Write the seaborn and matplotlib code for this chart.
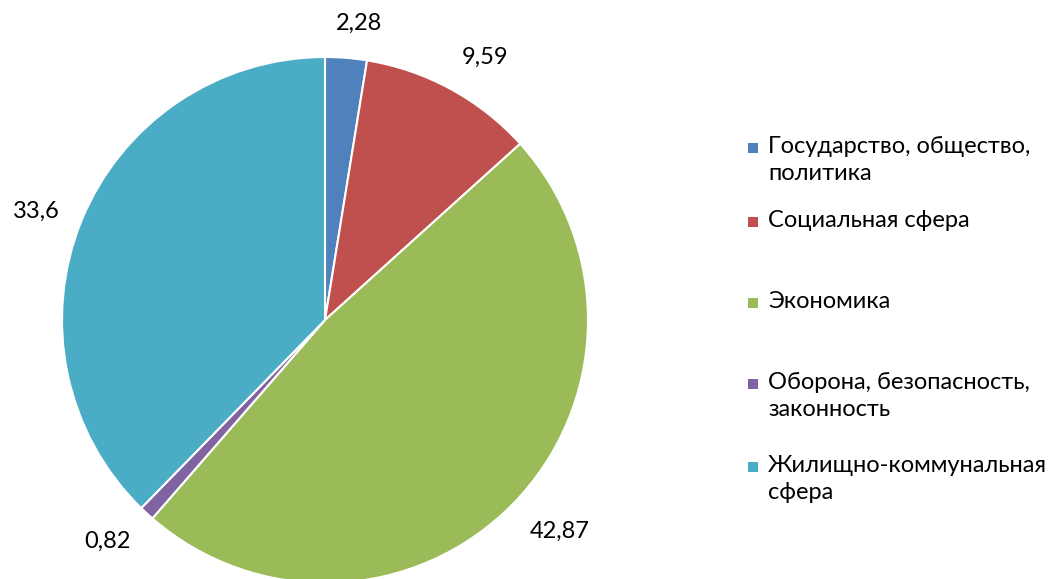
import numpy as np
import matplotlib
matplotlib.use("Agg")
import matplotlib.pyplot as plt
import seaborn as sns
from matplotlib.patches import Rectangle

# Data
categories = [
    "Государство, общество,\nполитика",
    "Социальная сфера",
    "Экономика",
    "Оборона, безопасность,\nзаконность",
    "Жилищно-коммунальная\nсфера",
]
values = [2.28, 9.59, 42.87, 0.82, 33.6]
value_labels = ["2,28", "9,59", "42,87", "0,82", "33,6"]
colors = ["#4F81BD", "#C0504D", "#9BBB59", "#8064A2", "#4BACC6"]

sns.set_style("white")
plt.rcParams["font.family"] = ["Lato", "Roboto", "DejaVu Sans"]

W, H = 1055, 579
fig = plt.figure(figsize=(W / 100, H / 100), dpi=100)
ax = fig.add_axes([0, 0, 1, 1])

# pie geometry in pixels
cx, cy, r = 325, 320, 263
palette = sns.color_palette(colors)
wedges, _ = ax.pie(
    values,
    colors=palette,
    startangle=90,
    counterclock=False,
    radius=1,
    wedgeprops=dict(edgecolor="white", linewidth=1.5),
)
ax.set_aspect("auto")
ax.set_xlim(-cx / r, (W - cx) / r)
ax.set_ylim(-(H - cy) / r, cy / r)
ax.axis("off")

# value labels outside the slices
for w, lab in zip(wedges, value_labels):
    ang = np.deg2rad((w.theta1 + w.theta2) / 2)
    c, s = np.cos(ang), np.sin(ang)
    ha = "center" if abs(c) < 0.2 else ("left" if c > 0 else "right")
    va = "bottom" if s > 0.5 else ("top" if s < -0.5 else "center")
    x = 1.09 * c + (0.04 if ha == "center" else 0.0)
    ax.text(x, 1.09 * s, lab, ha=ha, va=va, fontsize=17, color="#000000")

# legend, drawn by hand so the marker sits on the first line
legend_y = [148, 222, 303, 384, 467]
for lab, col, y in zip(categories, colors, legend_y):
    fig.patches.append(Rectangle((748 / W, 1 - (y + 5) / H), 10 / W, 10 / H,
                                 facecolor=col, edgecolor="none",
                                 transform=fig.transFigure, figure=fig))
    fig.text(768 / W, 1 - (y - 12) / H, lab, ha="left", va="top",
             fontsize=17, linespacing=1.38, color="#000000")

fig.savefig("out.png", dpi=100)
